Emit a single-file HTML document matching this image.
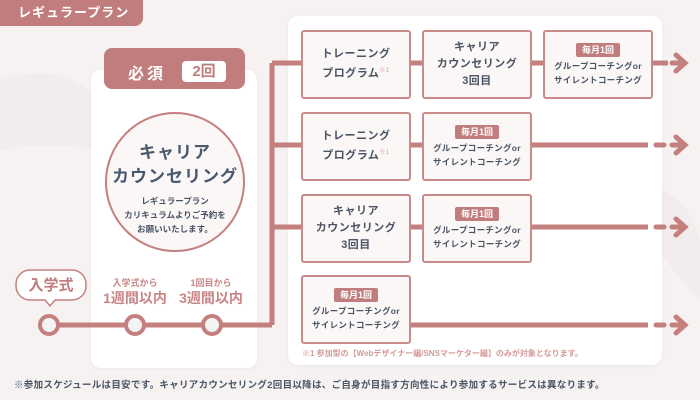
<!DOCTYPE html>
<html><head><meta charset="utf-8"><style>
*{margin:0;padding:0;box-sizing:border-box}
body{width:700px;height:400px;background:#f6f2f2;position:relative;overflow:hidden;font-family:"Liberation Sans","Noto Sans CJK JP",sans-serif;color:#4a5464}
.a{position:absolute}
.tag{left:0;top:0;width:143px;height:26px;background:#c17d7d;border-radius:0 0 8px 0;color:#fff;font-size:13px;font-weight:bold;line-height:26px;padding-left:18px;letter-spacing:1px}
.card{background:#fff;border-radius:10px;box-shadow:0 1px 4px rgba(0,0,0,.05)}
.box{position:absolute;width:110px;height:69px;background:#fbf7f7;border:2px solid #c98a8a;border-radius:3px;text-align:center;font-weight:bold;display:flex;flex-direction:column;justify-content:center;align-items:center}
.big{font-size:11px;line-height:17px;color:#4a5464;letter-spacing:.5px}
.sm{font-size:8.5px;line-height:14px;color:#4a5464;letter-spacing:.3px}
.bd{background:#c17d7d;color:#fff;font-size:9px;padding:0 6px;line-height:14px;border-radius:2px;margin-bottom:2px}
sup{font-size:6px;color:#d49a9a;font-weight:normal}
</style></head><body>
<svg class="a" style="left:0;top:0" width="700" height="400">
<path d="M0 80 Q60 60 100 100 L95 150 Q50 140 0 150Z" fill="#efe6e6" opacity=".5"/>
<path d="M660 190 Q690 200 700 240 L700 300 Q670 270 660 250Z" fill="#efe6e6" opacity=".5"/>
</svg>
<div class="a tag">レギュラープラン</div>
<div class="a card" style="left:91px;top:70px;width:166px;height:298px"></div>
<div class="a card" style="left:288px;top:16px;width:374px;height:349px"></div>
<div class="a" style="left:104px;top:48px;width:141px;height:41px;background:#c17d7d;border-radius:8px"></div>
<div class="a" style="left:128px;top:60px;color:#fff;font-size:16px;font-weight:bold;letter-spacing:3px">必須</div>
<div class="a" style="left:182px;top:61px;width:44px;height:21px;background:#fff;border-radius:4px;color:#c17d7d;font-size:15px;font-weight:bold;text-align:center;line-height:21px">2回</div>
<div class="a" style="left:105px;top:112px;width:140px;height:140px;border-radius:50%;border:2px solid #c47f7f;background:#fbf7f7;text-align:center;font-weight:bold">
<div style="margin-top:27px;font-size:17px;line-height:24px;color:#4a5a6e;letter-spacing:1px">キャリア<br>カウンセリング</div>
<div style="margin-top:5px;font-size:8.5px;line-height:14px">レギュラープラン<br>カリキュラムよりご予約を<br>お願いいたします。</div>
</div>
<svg class="a" style="left:0;top:0" width="700" height="400" fill="none" stroke="#c47f7f" stroke-linecap="round">
<path d="M16 284 a14 14 0 0 1 14 -14 h42 a14 14 0 0 1 14 14 v2 a14 14 0 0 1 -14 14 h-17 l-5 6 l-5 -6 h-15 a14 14 0 0 1 -14 -14z" fill="#fff" stroke-width="1.5"/>
<path d="M49 325 H272 M272 63 V325" stroke-width="5" stroke-linecap="butt"/>
<g stroke-width="5" stroke-linecap="butt">
<path d="M272 63 H301 M411 63 H422 M532 63 H543 M653 63 H668"/>
<path d="M272 145 H301 M411 145 H422 M532 145 H648"/>
<path d="M272 227 H301 M411 227 H422 M532 227 H648"/>
<path d="M411 325 H648"/>
</g>
<g stroke-width="5">
<path d="M656 145H664 M656 227H664 M656 325H664 M672 63H680 M672 145H684 M672 227H684 M672 325H684"/>
<path d="M676 55 L685 63 L676 71 M676 137 L685 145 L676 153 M676 219 L685 227 L676 235 M676 317 L685 325 L676 333"/>
</g>
<g fill="#f3f3f3" stroke-width="4"><circle cx="49" cy="325" r="9"/><circle cx="135" cy="325" r="9"/><circle cx="212" cy="325" r="9"/></g>
</svg>
<div class="a" style="left:16px;top:274px;width:70px;text-align:center;color:#c17d7d;font-size:15px;font-weight:bold">入学式</div>
<div class="a" style="left:96px;top:276px;width:78px;text-align:center;color:#c98585;font-weight:bold"><div style="font-size:9px">入学式から</div><div style="font-size:14px;line-height:18px">1週間以内</div></div>
<div class="a" style="left:172px;top:276px;width:78px;text-align:center;color:#c98585;font-weight:bold"><div style="font-size:9px">1回目から</div><div style="font-size:14px;line-height:18px">3週間以内</div></div>

<div class="box" style="left:301px;top:30px"><div class="big">トレーニング<br>プログラム<sup>※1</sup></div></div>
<div class="box" style="left:422px;top:30px"><div class="big">キャリア<br>カウンセリング<br>3回目</div></div>
<div class="box" style="left:543px;top:30px"><div class="bd">毎月1回</div><div class="sm">グループコーチングor<br>サイレントコーチング</div></div>
<div class="box" style="left:301px;top:112px"><div class="big">トレーニング<br>プログラム<sup>※1</sup></div></div>
<div class="box" style="left:422px;top:112px"><div class="bd">毎月1回</div><div class="sm">グループコーチングor<br>サイレントコーチング</div></div>
<div class="box" style="left:301px;top:194px"><div class="big">キャリア<br>カウンセリング<br>3回目</div></div>
<div class="box" style="left:422px;top:194px"><div class="bd">毎月1回</div><div class="sm">グループコーチングor<br>サイレントコーチング</div></div>
<div class="box" style="left:301px;top:275px"><div class="bd">毎月1回</div><div class="sm">グループコーチングor<br>サイレントコーチング</div></div>
<div class="a" style="left:302px;top:348px;font-size:8px;color:#d49a9a;font-weight:bold">※1 参加型の【Webデザイナー編/SNSマーケター編】のみが対象となります。</div>
<div class="a" style="left:14px;top:377px;font-size:9.5px;font-weight:bold;color:#4a5464;letter-spacing:.3px">※参加スケジュールは目安です。キャリアカウンセリング2回目以降は、ご自身が目指す方向性により参加するサービスは異なります。</div>
</body></html>
